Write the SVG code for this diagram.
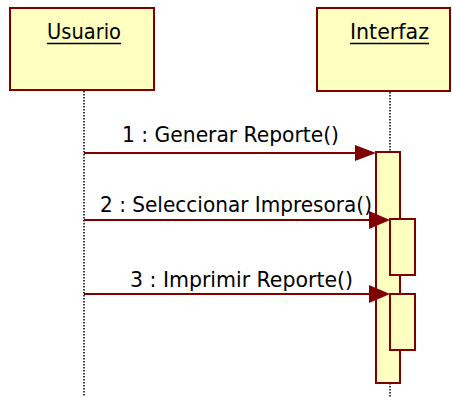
<svg xmlns="http://www.w3.org/2000/svg" width="452" height="397" viewBox="0 0 452 397">
<style>
.box{fill:#FFFFC0;stroke:#800000;stroke-width:2}
.life{stroke:#000;stroke-width:1.5;stroke-dasharray:1.5 1.5;fill:none}
.msg{stroke:#800000;stroke-width:2;fill:none}
.head{fill:#800000}
.lbl{font-family:"DejaVu Sans Condensed","DejaVu Sans","Liberation Sans",sans-serif;font-size:21px;fill:#000}
.ul{stroke:#000;stroke-width:1.5}
</style>
<rect width="452" height="397" fill="#fff"/>
<g id="lifelines">
<line class="life" x1="84" y1="91" x2="84" y2="397"/>
<line class="life" x1="390" y1="92" x2="390" y2="397"/>
</g>
<g id="usuario">
<rect class="box" x="10" y="8" width="144" height="82"/>
<text class="lbl" x="47" y="39" textLength="74" lengthAdjust="spacingAndGlyphs">Usuario</text>
<line class="ul" x1="47" y1="43.5" x2="121" y2="43.5"/>
</g>
<g id="interfaz">
<rect class="box" x="317" y="8" width="133" height="83"/>
<text class="lbl" x="350" y="39" textLength="79" lengthAdjust="spacingAndGlyphs">Interfaz</text>
<line class="ul" x1="350" y1="43.5" x2="429" y2="43.5"/>
</g>
<g id="activations">
<rect class="box" x="376" y="152" width="24" height="231"/>
<rect class="box" x="390" y="219" width="25" height="56"/>
<rect class="box" x="390" y="294" width="25" height="56"/>
</g>
<g id="connectors">
<line class="msg" x1="84" y1="153" x2="360" y2="153"/>
<polygon class="head" points="355,145 376,153 355,161"/>
<line class="msg" x1="84" y1="220" x2="374" y2="220"/>
<polygon class="head" points="369,211 390,220 369,229"/>
<line class="msg" x1="84" y1="294" x2="374" y2="294"/>
<polygon class="head" points="369,285 390,294 369,303"/>
</g>
<g id="labels">
<text class="lbl" x="122" y="142" textLength="217" lengthAdjust="spacingAndGlyphs">1 : Generar Reporte()</text>
<text class="lbl" x="100" y="212" textLength="272" lengthAdjust="spacingAndGlyphs">2 : Seleccionar Impresora()</text>
<text class="lbl" x="130" y="287" textLength="223" lengthAdjust="spacingAndGlyphs">3 : Imprimir Reporte()</text>
</g>
</svg>
